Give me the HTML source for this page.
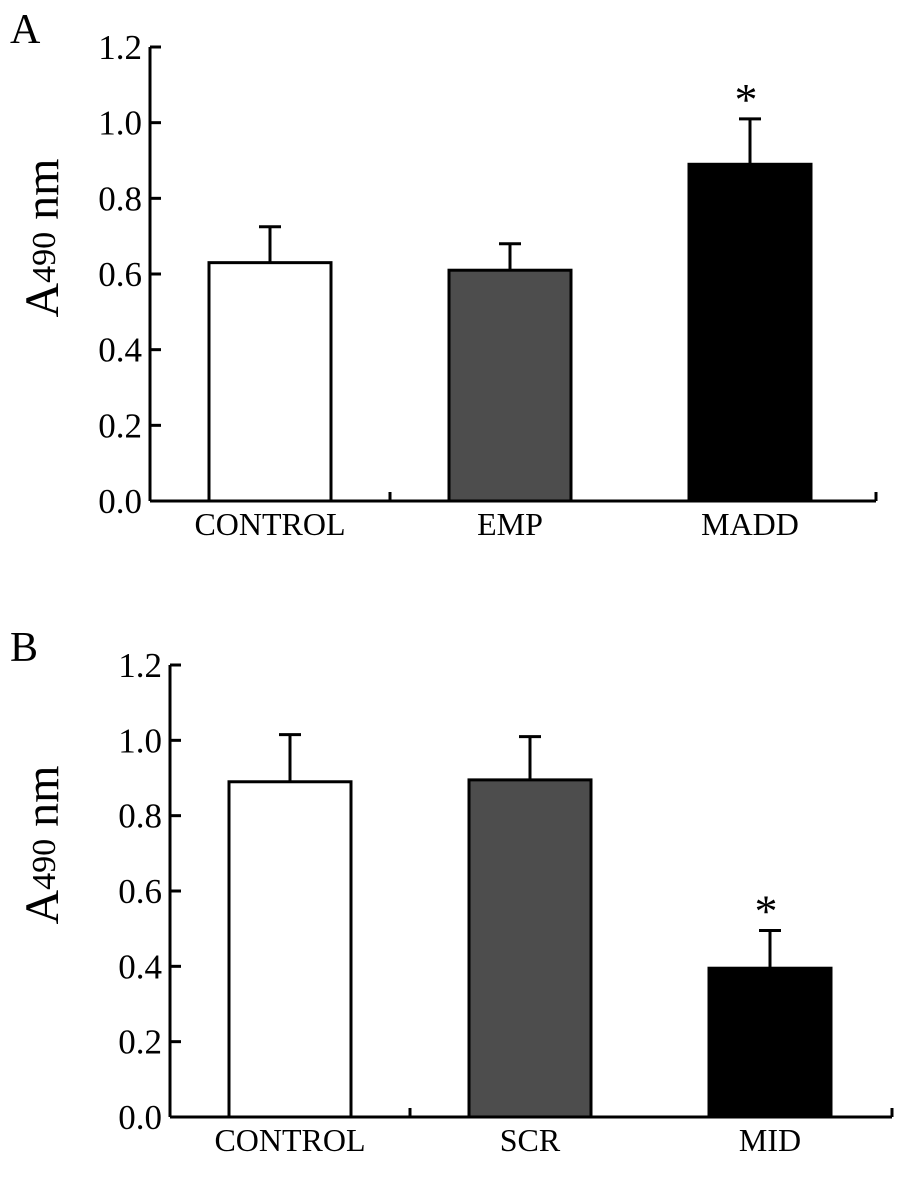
<!DOCTYPE html>
<html><head><meta charset="utf-8">
<style>
html,body{margin:0;padding:0;background:#fff;}
svg{display:block;font-family:"Liberation Serif",serif;}
</style></head>
<body>
<svg id="fig" width="910" height="1178" viewBox="0 0 910 1178"></svg>
<script>
const catsA = ["CONTROL","EMP","MADD"];
const valsA = [0.63, 0.61, 0.89];
const errA = [0.095, 0.07, 0.12];
const sigA = [false, false, true];
const catsB = ["CONTROL","SCR","MID"];
const valsB = [0.89, 0.895, 0.395];
const errB = [0.125, 0.115, 0.1];
const sigB = [false, false, true];
const yTicks = [0.0, 0.2, 0.4, 0.6, 0.8, 1.0, 1.2];
const fills = ["#ffffff","#4d4d4d","#000000"];

const NS = "http://www.w3.org/2000/svg";
const svg = document.getElementById('fig');
function mk(tag, attrs, parent, text){
  const e = document.createElementNS(NS, tag);
  for (const k in attrs) e.setAttribute(k, attrs[k]);
  if (text !== undefined) e.textContent = text;
  (parent || svg).appendChild(e);
  return e;
}

function panel(key, letter, ox, y0, y12, xEnd, cats, vals, errs, sig, ylabY){
  const g = mk('g', {});
  
  
  const yScale = v => y0 - (v / 1.2) * (y0 - y12);
  const groupW = 240;
  const xCenter = i => ox + 120 + i * groupW;
  const barW = 122;

  const lt = mk('text', {x: 10, y: y12 - 4, 'font-size': 42}, g, letter);
  
  

  const yl = mk('text', {x: 0, y: 0, 'font-size': 48, 'text-anchor': 'middle',
    transform: `translate(58,${ylabY}) rotate(-90)`}, g);
  
  
  mk('tspan', {}, yl, 'A');
  mk('tspan', {'font-size': 34, dy: -3}, yl, '490');
  mk('tspan', {'font-size': 48, dy: 3}, yl, ' nm');

  vals.forEach((v, i) => {
    const cx = xCenter(i);
    const top = yScale(v);
    const b = mk('rect', {x: cx - barW/2, y: top, width: barW, height: y0 - top,
      fill: fills[i], stroke: '#000', 'stroke-width': 3}, g);
    
    
    const et = yScale(v + errs[i]);
    const eb = mk('path', {d: `M${cx} ${top} V${et} M${cx-11} ${et} H${cx+11}`,
      stroke: '#000', 'stroke-width': 3, fill: 'none'}, g);
    
    
    if (sig[i]) {
      const s = mk('text', {x: cx - 4, y: et - 4, 'font-size': 46, 'text-anchor': 'middle'}, g, '*');
      
      
    }
    const cl = mk('text', {x: cx, y: y0 + 34, 'font-size': 32, 'text-anchor': 'middle'}, g, cats[i]);
    
    
  });

  const ya = mk('path', {d: `M${ox} ${y12} V${y0}`, stroke: '#000', 'stroke-width': 3, fill: 'none'}, g);
  
  
  const xa = mk('path', {d: `M${ox} ${y0} H${xEnd}`, stroke: '#000', 'stroke-width': 3, fill: 'none'}, g);
  
  
  yTicks.forEach(t => {
    const y = yScale(t);
    const tk = mk('path', {d: `M${ox} ${y} H${ox+11}`, stroke: '#000', 'stroke-width': 3}, g);
    
    
    const tl = mk('text', {x: ox - 8, y: y + 12, 'font-size': 35, 'text-anchor': 'end'}, g, t.toFixed(1));
    
    
  });
  [1, 2].forEach(i => {
    const x = i === 2 ? xEnd : ox + i * groupW;
    const tk = mk('path', {d: `M${x} ${y0} V${y0-9}`, stroke: '#000', 'stroke-width': 3}, g);
    
    
  });
}

panel('a', 'A', 150, 501, 47, 876, catsA, valsA, errA, sigA, 238);
panel('b', 'B', 170, 1117, 665, 892, catsB, valsB, errB, sigB, 845);
</script>
</body></html>
